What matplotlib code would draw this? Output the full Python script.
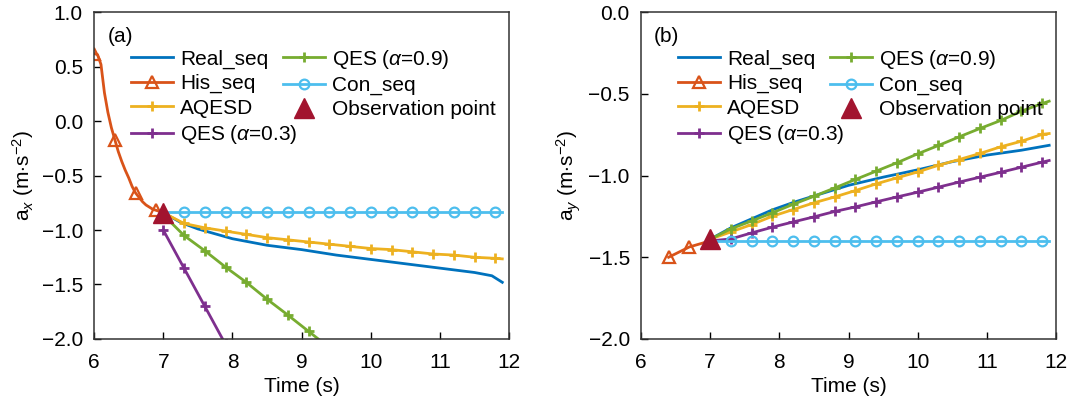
import matplotlib
matplotlib.use("Agg")
import matplotlib.pyplot as plt
import numpy as np

plt.rcParams['font.family'] = ['Liberation Sans', 'DejaVu Sans']
plt.rcParams['font.size'] = 15
plt.rcParams['mathtext.fontset'] = 'custom'
plt.rcParams['mathtext.rm'] = 'Liberation Sans'
plt.rcParams['mathtext.it'] = 'Liberation Sans:italic'

C_REAL = '#0072BD'
C_HIS = '#D95319'
C_AQ = '#EDB120'
C_Q3 = '#7E2F8E'
C_Q9 = '#77AC30'
C_CON = '#4DBEEE'
C_OBS = '#A2142F'

# ---------------- panel (a): a_x ----------------
his_t_a = [6.00, 6.05, 6.10, 6.15, 6.20, 6.25, 6.30, 6.35, 6.40, 6.45, 6.50,
           6.55, 6.60, 6.65, 6.70, 6.75, 6.80, 6.85, 6.90, 6.95, 7.00]
his_a = [0.62, 0.61, 0.52, 0.26, 0.08, -0.06, -0.17, -0.28, -0.37, -0.45, -0.52,
         -0.60, -0.66, -0.70, -0.74, -0.77, -0.79, -0.81, -0.82, -0.83, -0.84]

real_t_a = [7.0, 7.25, 7.5, 8.0, 8.5, 9.0, 9.5, 10.0, 10.5, 11.0, 11.5, 11.75, 11.9]
real_a = [-0.84, -0.93, -0.99, -1.08, -1.14, -1.18, -1.23, -1.27, -1.31, -1.35,
          -1.39, -1.42, -1.48]

pred_t = [7.0, 7.3, 7.6, 7.9, 8.2, 8.5, 8.8, 9.1, 9.4, 9.7, 10.0, 10.3, 10.6,
          10.9, 11.2, 11.5, 11.8, 11.9]
aqesd_a = [-0.84, -0.94, -0.98, -1.01, -1.04, -1.07, -1.09, -1.11, -1.13, -1.15,
           -1.17, -1.18, -1.20, -1.22, -1.23, -1.25, -1.26, -1.265]
con_a = [-0.835] * len(pred_t)

q9_t_a = [7.0, 7.3, 7.6, 7.9, 8.2, 8.5, 8.8, 9.1, 9.4]
q9_a = [-0.86, -1.05, -1.19, -1.34, -1.48, -1.635, -1.78, -1.93, -2.08]
q3_t_a = [7.0, 7.3, 7.6, 7.9]
q3_a = [-1.0, -1.35, -1.70, -2.05]
obs_a = (7.0, -0.84)

# ---------------- panel (b): a_y ----------------
his_t_b = [6.4, 6.7, 7.0]
his_b = [-1.50, -1.437, -1.40]

real_t_b = [7.0, 7.3, 7.6, 7.9, 8.2, 8.5, 9.0, 9.5, 10.0, 10.5, 11.0, 11.5, 11.9]
real_b = [-1.39, -1.32, -1.265, -1.21, -1.165, -1.125, -1.06, -1.01, -0.965,
          -0.915, -0.875, -0.845, -0.815]

aqesd_b = [-1.39, -1.345, -1.30, -1.249, -1.208, -1.167, -1.131, -1.092, -1.051,
           -1.014, -0.978, -0.937, -0.902, -0.865, -0.824, -0.790, -0.748, -0.743]
q9_b = [-1.39, -1.326, -1.278, -1.228, -1.176, -1.127, -1.076, -1.024, -0.973,
        -0.922, -0.867, -0.816, -0.763, -0.712, -0.663, -0.606, -0.559, -0.545]
q3_b = [-1.40, -1.388, -1.351, -1.316, -1.284, -1.253, -1.22, -1.192, -1.161,
        -1.131, -1.102, -1.071, -1.04, -1.01, -0.98, -0.949, -0.918, -0.908]
con_b = [-1.40] * len(pred_t)
obs_b = (7.0, -1.39)

n = len(pred_t)
mid = list(range(1, n - 1))


def draw(ax, his_t, his, his_mk, real_t, real, aq, q3_t, q3, q3_mk, q9_t, q9, q9_mk,
         con, obs, ylim, ylabel, tag):
    lw = 2.0
    ax.plot(real_t, real, color=C_REAL, lw=lw, label='Real_seq')
    ax.plot(his_t, his, color=C_HIS, lw=lw, marker='^', ms=8, mfc='none', mew=1.6,
            markevery=his_mk, label='His_seq')
    ax.plot(pred_t, aq, color=C_AQ, lw=lw, marker='+', ms=7, mew=2,
            markevery=mid, label='AQESD')
    ax.plot(q3_t, q3, color=C_Q3, lw=lw, marker='+', ms=7, mew=2,
            markevery=q3_mk, label='QES ($\\alpha$=0.3)')
    ax.plot(q9_t, q9, color=C_Q9, lw=lw, marker='+', ms=7, mew=2,
            markevery=q9_mk, label='QES ($\\alpha$=0.9)')
    ax.plot(pred_t, con, color=C_CON, lw=lw, marker='o', ms=7, mfc='none', mew=1.6,
            markevery=mid, label='Con_seq')
    ax.plot([obs[0]], [obs[1]], ls='none', marker='^', ms=14, color=C_OBS,
            label='Observation point', zorder=5)
    ax.set_xlim(6, 12)
    ax.set_ylim(*ylim)
    ax.set_yticks(np.arange(ylim[0], ylim[1] + 0.01, 0.5))
    ax.set_xlabel('Time (s)', labelpad=4)
    ax.set_ylabel(ylabel, labelpad=4)
    ax.tick_params(direction='in', length=5, width=1, top=False, right=False)
    ax.tick_params(axis='x', pad=10)
    ax.tick_params(axis='y', pad=8)
    for s in ax.spines.values():
        s.set_linewidth(1.1)
        s.set_color('#333333')
    ax.text(0.032, 0.955, tag, transform=ax.transAxes, ha='left', va='top')
    ax.legend(ncol=2, loc='upper left', bbox_to_anchor=(0.075, 0.91),
              frameon=False, borderaxespad=0, borderpad=0.3, handlelength=2.0,
              handletextpad=0.35, labelspacing=0.25, columnspacing=-0.7)


fig = plt.figure(figsize=(10.7, 4.04), dpi=100)
ax1 = fig.add_axes([0.0879, 0.161, 0.388, 0.809])
ax2 = fig.add_axes([0.599, 0.161, 0.388, 0.809])

draw(ax1, his_t_a, his_a, [0, 6, 12, 18], real_t_a, real_a, aqesd_a,
     q3_t_a, q3_a, [0, 1, 2, 3], q9_t_a, q9_a, list(range(1, len(q9_t_a))),
     con_a, obs_a, (-2.0, 1.0), r'a$_x$ (m$\cdot$s$^{-2}$)', '(a)')
draw(ax2, his_t_b, his_b, [0, 1], real_t_b, real_b, aqesd_b,
     pred_t, q3_b, mid, pred_t, q9_b, mid,
     con_b, obs_b, (-2.0, 0.0), r'a$_y$ (m$\cdot$s$^{-2}$)', '(b)')

fig.savefig('out.png', dpi=100)
